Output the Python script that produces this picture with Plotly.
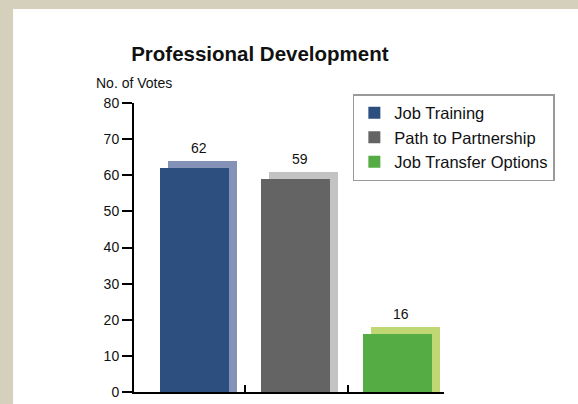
import plotly.graph_objects as go

# ---- data ----
categories = ["Job Training", "Path to Partnership", "Job Transfer Options"]
votes = [62, 59, 16]
y_ticks = [0, 10, 20, 30, 40, 50, 60, 70, 80]
title_text = "Professional Development"
y_title = "No. of Votes"

# ---- style ----
front_colors = ["#2d4f80", "#646464", "#55ab44"]
shadow_colors = ["#8592b7", "#c3c3c3", "#c0d874"]
bar_width = 0.68
shadow_dx = 0.079      # horizontal offset of the 3D back face (axis units)
shadow_lift = 1.94     # vertical offset of the 3D back face (value units)
font_family = "Liberation Sans, Arial, Helvetica, sans-serif"

positions = list(range(len(categories)))

fig = go.Figure()

# back faces (shadows)
for i, (cat, v) in enumerate(zip(categories, votes)):
    fig.add_trace(go.Bar(
        x=[positions[i] + shadow_dx], y=[v + shadow_lift], width=[bar_width],
        marker=dict(color=shadow_colors[i], line=dict(width=0)),
        showlegend=False, hoverinfo="skip",
    ))

# front faces
for i, (cat, v) in enumerate(zip(categories, votes)):
    fig.add_trace(go.Bar(
        x=[positions[i]], y=[v], width=[bar_width], name=cat,
        marker=dict(color=front_colors[i], line=dict(width=0)),
    ))

# value labels
for i, v in enumerate(votes):
    fig.add_annotation(
        x=positions[i] + 0.04, y=v + shadow_lift, xref="x", yref="y",
        text=str(v), showarrow=False, yanchor="middle", yshift=13,
        font=dict(size=14, color="#111111", family=font_family),
    )

# y-axis title
fig.add_annotation(
    x=-0.129, y=1.069, xref="paper", yref="paper", text=y_title,
    showarrow=False, xanchor="left", yanchor="middle",
    font=dict(size=14, color="#111111", family=font_family),
)

# white panel over beige frame
fig.add_shape(type="rect", xref="paper", yref="paper",
              x0=-0.39, x1=1.5, y0=-0.1, y1=1.325,
              fillcolor="white", line=dict(width=0), layer="below")

fig.update_layout(
    width=578, height=404,
    margin=dict(l=134, r=134, t=103, b=12, autoexpand=False),
    paper_bgcolor="#d5d0bb",
    plot_bgcolor="rgba(0,0,0,0)",
    barmode="overlay",
    bargap=0,
    font=dict(family=font_family, color="#111111"),
    title=dict(text="<b>" + title_text + "</b>", x=0.406, xref="paper",
               xanchor="center", y=1 - 54 / 404, yanchor="middle",
               font=dict(size=20.5, color="#111111", family=font_family)),
    legend=dict(x=0.706, y=1.031, xanchor="left", yanchor="top",
                bordercolor="#999999", borderwidth=1.5, bgcolor="white",
                font=dict(size=16.5, color="#111111", family=font_family),
                traceorder="normal", tracegroupgap=0),
    showlegend=True,
)

fig.update_xaxes(
    range=[-0.596, 2.459], showgrid=False, zeroline=False,
    showline=True, linecolor="black", linewidth=2,
    tickmode="array", tickvals=[0.4975, 1.512, 2.457], ticktext=["", "", ""],
    ticks="inside", ticklen=7, tickwidth=2, tickcolor="black",
    showticklabels=False, fixedrange=True,
)
fig.update_yaxes(
    range=[0, 80], showgrid=False, zeroline=False,
    showline=True, linecolor="black", linewidth=2,
    tickmode="array", tickvals=y_ticks,
    ticks="outside", ticklen=10, tickwidth=2, tickcolor="black",
    tickfont=dict(size=14, color="#111111", family=font_family),
    fixedrange=True,
)

fig.write_html(
    "out.html",
    config={"displayModeBar": False},
    post_script="document.body.style.margin='0';document.body.style.overflow='hidden';",
)
